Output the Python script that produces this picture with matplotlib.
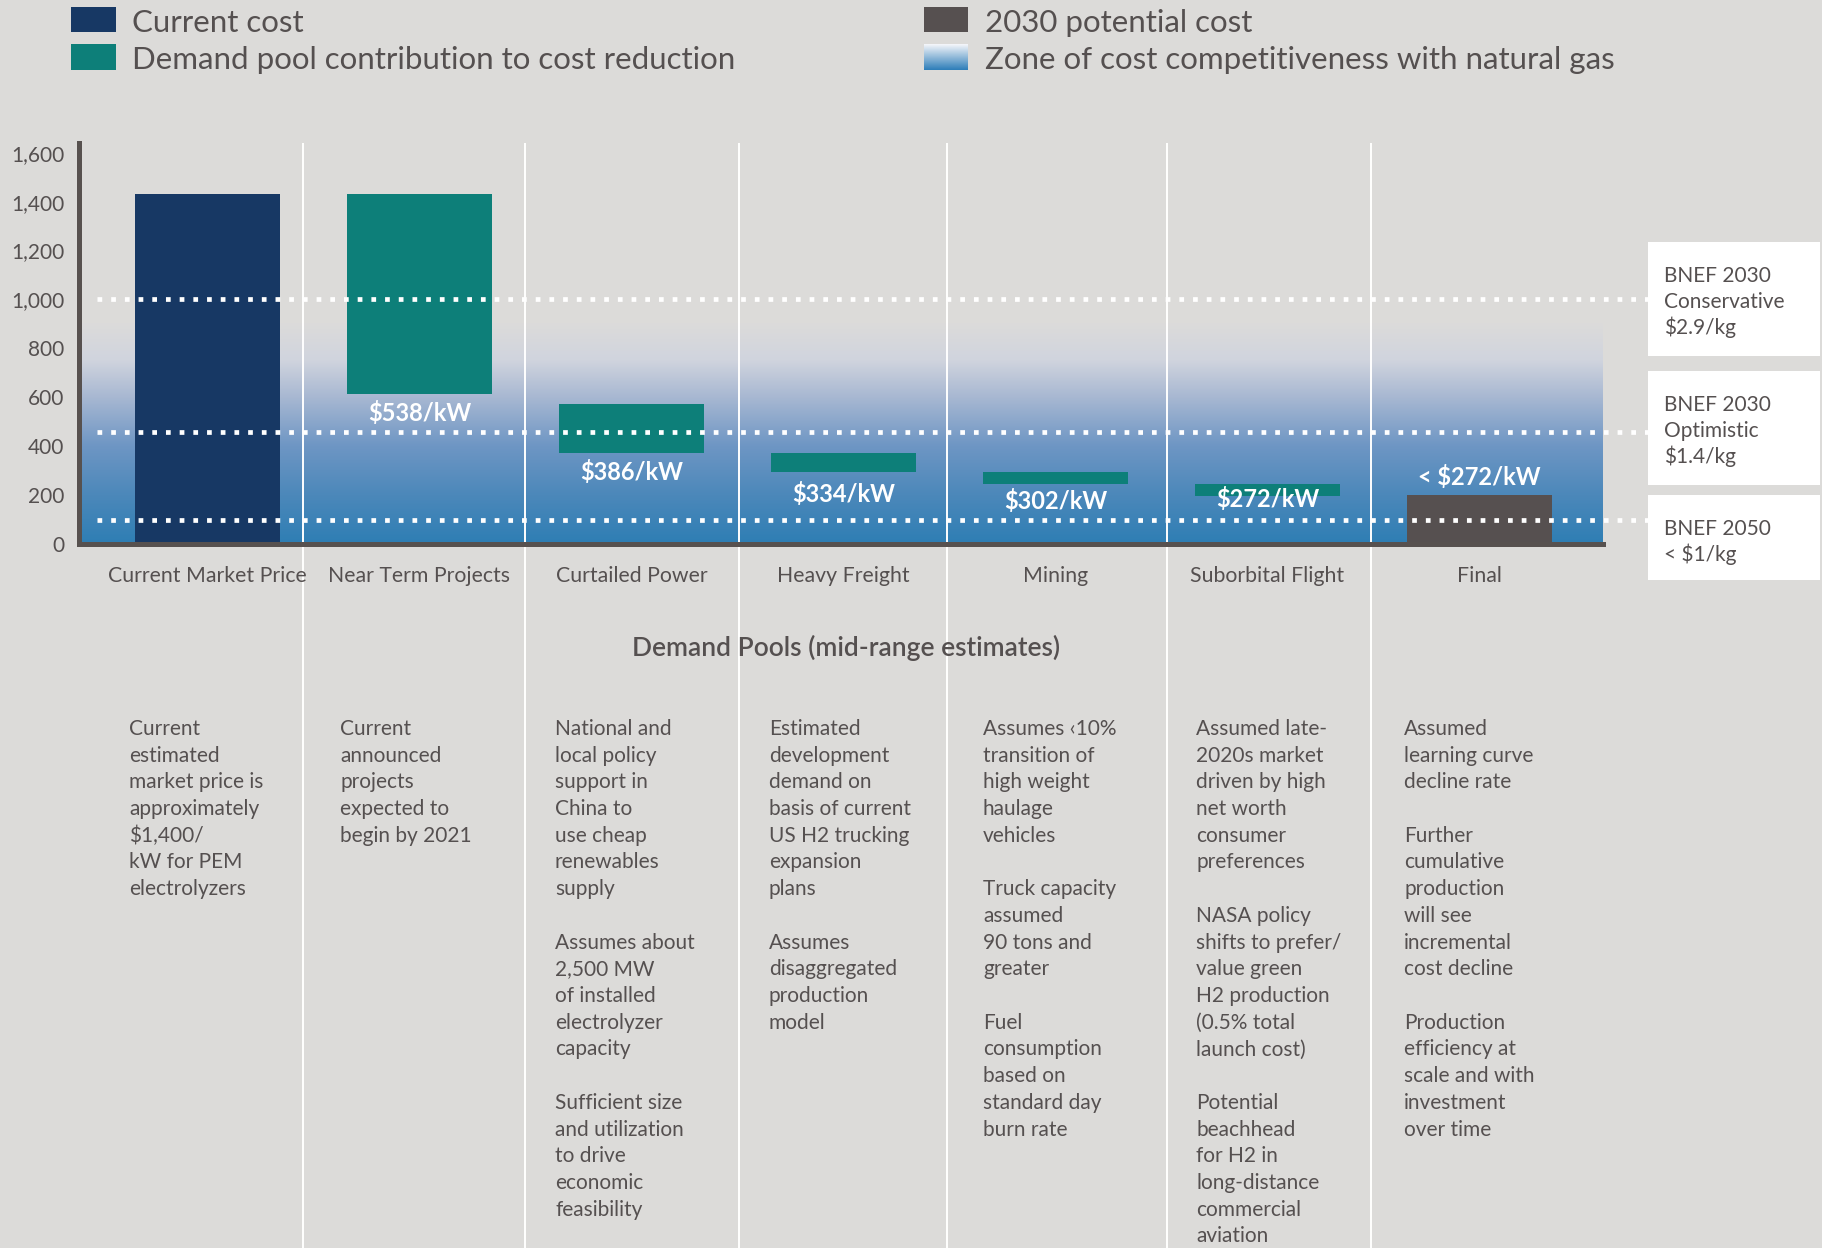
import matplotlib
matplotlib.use("Agg")
import matplotlib.pyplot as plt
from matplotlib.patches import Rectangle
from matplotlib.transforms import blended_transform_factory
import numpy as np

plt.rcParams["font.family"] = ["Lato", "DejaVu Sans"]

# ---- data ----
categories = [
    "Current Market Price", "Near Term Projects", "Curtailed Power",
    "Heavy Freight", "Mining", "Suborbital Flight", "Final",
]
bar_top = [1430, 1430, 572, 372, 295, 245, 200]
bar_bottom = [0, 615, 374, 296, 247, 198, 0]
bar_kind = ["current", "pool", "pool", "pool", "pool", "pool", "potential"]
value_labels = ["", "$538/kW", "$386/kW", "$334/kW", "$302/kW", "$272/kW", "< $272/kW"]
y_ticks = [0, 200, 400, 600, 800, 1000, 1200, 1400, 1600]
benchmark_levels = [1000, 460, 100]
benchmark_labels = [
    ["BNEF 2030", "Conservative", "$2.9/kg"],
    ["BNEF 2030", "Optimistic", "$1.4/kg"],
    ["BNEF 2050", "< $1/kg"],
]
zone_top = 900
descriptions = [
    "Current\nestimated\nmarket price is\napproximately\n$1,400/\nkW for PEM\nelectrolyzers",
    "Current\nannounced\nprojects\nexpected to\nbegin by 2021",
    "National and\nlocal policy\nsupport in\nChina to\nuse cheap\nrenewables\nsupply\n\n"
    "Assumes about\n2,500 MW\nof installed\nelectrolyzer\ncapacity\n\n"
    "Sufficient size\nand utilization\nto drive\neconomic\nfeasibility",
    "Estimated\ndevelopment\ndemand on\nbasis of current\nUS H2 trucking\nexpansion\nplans\n\n"
    "Assumes\ndisaggregated\nproduction\nmodel",
    "Assumes \u203910%\ntransition of\nhigh weight\nhaulage\nvehicles\n\n"
    "Truck capacity\nassumed\n90 tons and\ngreater\n\n"
    "Fuel\nconsumption\nbased on\nstandard day\nburn rate",
    "Assumed late-\n2020s market\ndriven by high\nnet worth\nconsumer\npreferences\n\n"
    "NASA policy\nshifts to prefer/\nvalue green\nH2 production\n(0.5% total\nlaunch cost)\n\n"
    "Potential\nbeachhead\nfor H2 in\nlong-distance\ncommercial\naviation",
    "Assumed\nlearning curve\ndecline rate\n\n"
    "Further\ncumulative\nproduction\nwill see\nincremental\ncost decline\n\n"
    "Production\nefficiency at\nscale and with\ninvestment\nover time",
]
legend_left = ["Current cost", "Demand pool contribution to cost reduction"]
legend_right = ["2030 potential cost", "Zone of cost competitiveness with natural gas"]

# ---- style ----
W, H = 1822, 1248
BG = "#dcdbd9"
TXT = "#555050"
SPINE = "#57514f"
colors = {"current": "#173864", "pool": "#0d7f79", "potential": "#565050"}
label_offset_pt = [0, -14, -14, -16, -12.5, -2.5, 13]
separators = [0.452, 1.498, 2.507, 3.487, 4.525, 5.49]
desc_x_px = [129, 340, 555, 769, 983, 1196, 1404]
bar_w = 0.684


def fx(px):
    return px / W


def fy(py):
    return 1 - py / H


fig = plt.figure(figsize=(W / 100, H / 100), dpi=100, facecolor=BG)
ax = fig.add_axes([fx(79), fy(544), fx(1603) - fx(79), fy(143) - fy(544)])
ax.set_facecolor(BG)
xlim = (-0.606, 6.583)

# gradient zone
vals = np.linspace(0, zone_top, 300)
stops = [0, 200, 400, 600, 750, zone_top]
rgb = np.stack([
    np.interp(vals, stops, [46, 76, 110, 168, 208, 220]),
    np.interp(vals, stops, [126, 136, 150, 184, 212, 219]),
    np.interp(vals, stops, [180, 186, 196, 210, 222, 218]),
], axis=-1) / 255.0
ax.imshow(rgb[:, None, :], extent=(xlim[0], xlim[1], 0, zone_top), origin="lower",
          aspect="auto", zorder=0, interpolation="bilinear")

# separators
sep_tr = blended_transform_factory(ax.transData, fig.transFigure)
ax.vlines(separators, 0, fy(143), transform=sep_tr, colors="white", linewidth=1.4,
          clip_on=False, zorder=1)

# bars
x = np.arange(len(categories))
for i in range(len(categories)):
    ax.bar(x[i], bar_top[i] - bar_bottom[i], bottom=bar_bottom[i], width=bar_w,
           color=colors[bar_kind[i]], zorder=2)

# benchmark dotted lines
ax.hlines(benchmark_levels, -0.521, 6.795, colors="white", linewidth=3.4,
          linestyles=(0, (1, 1.9)), clip_on=False, zorder=3)

# value labels
for i, lab in enumerate(value_labels):
    if not lab:
        continue
    ref = bar_top[i] if label_offset_pt[i] > 0 else bar_bottom[i]
    ax.annotate(lab, (x[i], ref), xytext=(0, label_offset_pt[i]), textcoords="offset points",
                ha="center", va="center", color="white", fontsize=17, fontweight="bold",
                zorder=4)

ax.set_xlim(*xlim)
ax.set_ylim(0, 1640)
ax.set_yticks(y_ticks, [f"{v:,}" for v in y_ticks])
ax.set_xticks(x, categories)
ax.tick_params(axis="y", length=0, pad=10.5, labelsize=15, labelcolor=TXT)
ax.tick_params(axis="x", length=0, pad=16, labelsize=15.3, labelcolor=TXT)
for s in ["top", "right"]:
    ax.spines[s].set_visible(False)
for s in ["left", "bottom"]:
    ax.spines[s].set_color(SPINE)
    ax.spines[s].set_linewidth(3.6)
    ax.spines[s].set_zorder(5)

# benchmark boxes
boxes = [(242, 356), (371, 485), (495, 580)]
for (top, bot), lines in zip(boxes, benchmark_labels):
    fig.patches.append(Rectangle((fx(1648), fy(bot)), fx(1820) - fx(1648), fy(top) - fy(bot),
                                 transform=fig.transFigure, facecolor="white", edgecolor="none"))
    for j, line in enumerate(lines):
        fig.text(fx(1664), fy(top + 40 + 26 * j), line, va="baseline", ha="left",
                 fontsize=15, color=TXT)

# axis title
fig.text(fx(846), fy(648), "Demand Pools (mid-range estimates)", ha="center", va="center",
         fontsize=19, fontweight="semibold", color=TXT)

# descriptions
for i, desc in enumerate(descriptions):
    for j, line in enumerate(desc.split("\n")):
        if line:
            fig.text(fx(desc_x_px[i]), fy(735 + 26.7 * j), line, va="baseline", ha="left",
                     fontsize=15, color=TXT)

# legend
for j, lab in enumerate(legend_left):
    top, bot = [(7, 32), (44, 70)][j]
    fig.patches.append(Rectangle((fx(71), fy(bot)), fx(116) - fx(71), fy(top) - fy(bot),
                                 transform=fig.transFigure,
                                 facecolor=[colors["current"], colors["pool"]][j], edgecolor="none"))
    fig.text(fx(132), fy([23, 60][j]), lab, va="center", ha="left", fontsize=22.5,
             color=TXT)

fig.patches.append(Rectangle((fx(924), fy(32)), fx(968) - fx(924), fy(7) - fy(32),
                             transform=fig.transFigure, facecolor=colors["potential"],
                             edgecolor="none"))
fig.text(fx(985), fy(23), legend_right[0], va="center", ha="left", fontsize=22.5,
         color=TXT)
lax = fig.add_axes([fx(924), fy(70), fx(968) - fx(924), fy(44) - fy(70)])
lg = np.linspace(0, 1, 50)
lrgb = np.stack([np.interp(lg, [0, 1], [46, 245]), np.interp(lg, [0, 1], [126, 246]),
                 np.interp(lg, [0, 1], [185, 250])], axis=-1) / 255.0
lax.imshow(lrgb[:, None, :], origin="lower", aspect="auto", extent=(0, 1, 0, 1))
lax.axis("off")
fig.text(fx(985), fy(60), legend_right[1], va="center", ha="left", fontsize=22.5,
         color=TXT)

fig.savefig("out.png", dpi=100, facecolor=BG)
